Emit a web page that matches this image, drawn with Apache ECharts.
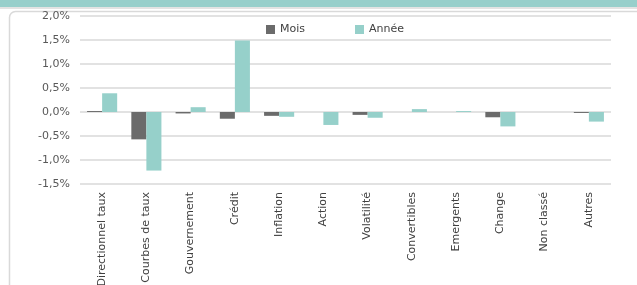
<!DOCTYPE html>
<html>
<head>
<meta charset="utf-8">
<script src="https://cdn.jsdelivr.net/npm/echarts@6/dist/echarts.min.js"></script>
<style>
  html, body { margin: 0; padding: 0; background: #fff; }
  #chart { width: 637px; height: 285px; }
</style>
</head>
<body>
<div id="chart"></div>
<script>
// catégories
var categories = ['Directionnel taux', 'Courbes de taux', 'Gouvernement', 'Crédit', 'Inflation', 'Action',
    'Volatilité', 'Convertibles', 'Emergents', 'Change', 'Non classé', 'Autres'];

// performance en %
var mois  = [0.02, -0.57, -0.03, -0.14, -0.08, 0.00, -0.06, 0.00, 0.00, -0.11, 0.00, -0.02];
var annee = [0.39, -1.22, 0.10, 1.49, -0.10, -0.27, -0.12, 0.06, 0.02, -0.30, 0.00, -0.20];

var yTicks = { min: -1.5, max: 2.0, step: 0.5 };

var myChart = echarts.init(document.getElementById('chart'));

myChart.setOption({
    animation: false,
    textStyle: { fontFamily: '"DejaVu Sans", sans-serif' },
    graphic: [
        // bandeau du haut
        { type: 'rect', shape: { x: 0, y: 0, width: 637, height: 7 }, style: { fill: '#97cfcb' } },
        { type: 'rect', shape: { x: 0, y: 7, width: 637, height: 2 }, style: { fill: '#e3e3e3' } },
        // cadre
        { type: 'rect', shape: { x: 9.5, y: 11.5, width: 700, height: 400, r: 6 },
          style: { fill: 'none', stroke: '#d9d9d9', lineWidth: 1.5 } }
    ],
    legend: {
        data: ['Mois', 'Année'],
        left: 261,
        top: 19,
        itemWidth: 9,
        itemHeight: 9,
        itemGap: 50,
        icon: 'rect',
        textStyle: { color: '#404040', fontSize: 11 }
    },
    grid: {
        left: 80,
        right: 26,
        top: 16,
        bottom: 101,
        outerBoundsMode: 'none'
    },
    xAxis: {
        type: 'category',
        data: categories,
        axisLine: { show: false, onZero: false },
        axisTick: { show: false },
        axisLabel: {
            rotate: 90,
            margin: 8,
            interval: 0,
            color: '#404040',
            fontSize: 11
        }
    },
    yAxis: {
        type: 'value',
        min: yTicks.min,
        max: yTicks.max,
        interval: yTicks.step,
        axisLine: { show: false },
        axisTick: { show: false },
        axisLabel: {
            color: '#595959',
            fontSize: 11,
            margin: 10,
            formatter: function (v) {
                return v.toFixed(1).replace('.', ',') + '%';
            }
        },
        splitLine: { lineStyle: { color: '#d9d9d9', width: 1.5 } }
    },
    series: [
        {
            name: 'Mois',
            type: 'bar',
            data: mois,
            barGap: '0%',
            barCategoryGap: '32%',
            itemStyle: { color: '#6b6b6b' }
        },
        {
            name: 'Année',
            type: 'bar',
            data: annee,
            itemStyle: { color: '#96d0ca' }
        }
    ]
});
</script>
</body>
</html>
